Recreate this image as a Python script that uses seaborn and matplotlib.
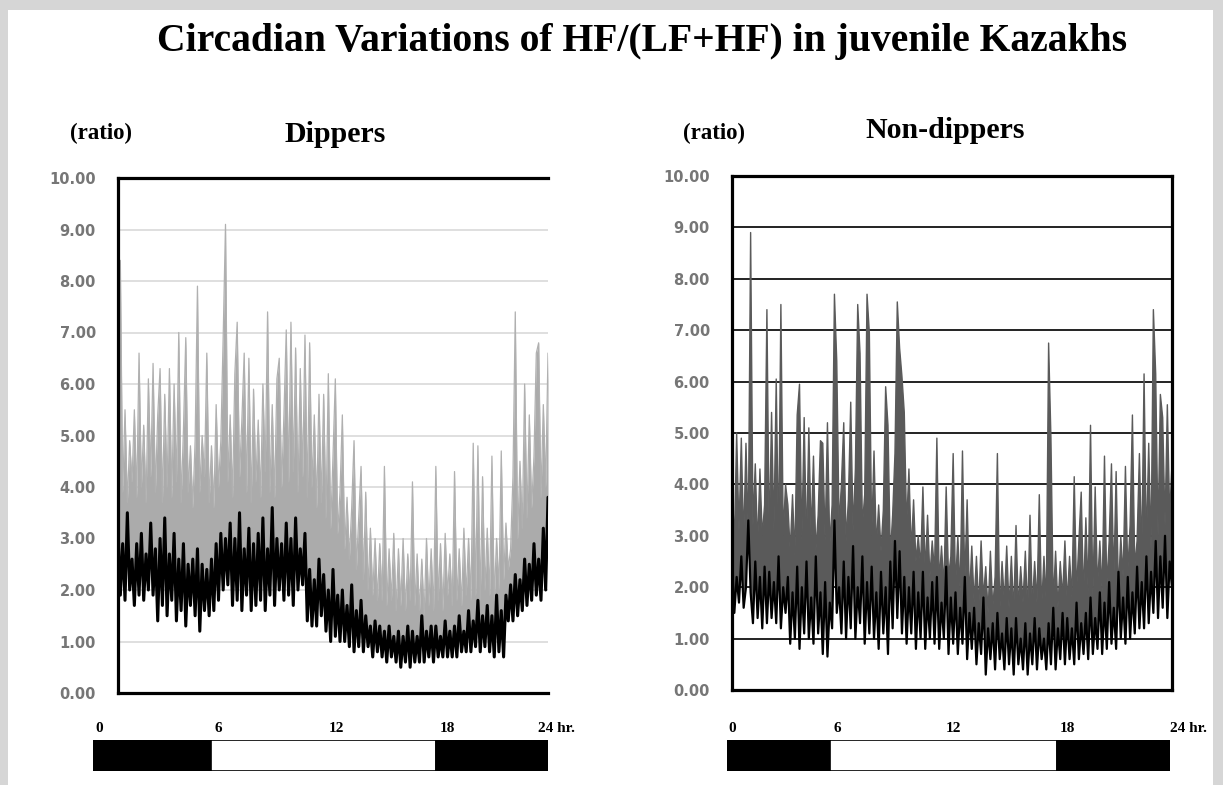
import numpy as np
import matplotlib
matplotlib.use("Agg")
import matplotlib.pyplot as plt
import seaborn as sns
from matplotlib.patches import Rectangle
from matplotlib.transforms import blended_transform_factory

# ---------------- data ----------------
title = "Circadian Variations of HF/(LF+HF) in juvenile Kazakhs"
panel_titles = ["Dippers", "Non-dippers"]
y_unit = "(ratio)"
y_ticks = [0, 1, 2, 3, 4, 5, 6, 7, 8, 9, 10]
x_tick_labels = ["0", "6", "12", "18", "24 hr."]
# where the hour labels sit under each panel (hours)
dip_label_hours = [0, 6.36, 12.67, 18.6, 23.48]
nondip_label_hours = [0, 5.65, 11.88, 18.06, 23.55]

# Dippers: samples every 7.5 min from 1:00 to 24:00
dip_start_hour, dip_end_hour = 1.0, 24.0
dip_gray = [
    3.6, 8.4, 3.9, 5.5, 3.7, 4.9, 4.1, 5.5,
    3.8, 6.6, 4.0, 5.2, 3.7, 6.1, 4.2, 6.4,
    3.9, 5.4, 6.3, 3.7, 5.8, 4.0, 6.3, 3.8,
    6.0, 4.1, 7.0, 3.7, 5.1, 6.9, 3.9, 4.8,
    3.6, 4.9, 7.9, 3.9, 5.0, 4.2, 6.6, 3.7,
    4.8, 3.6, 5.6, 4.0, 4.9, 6.9, 9.1, 4.1,
    5.4, 3.8, 6.2, 7.2, 4.2, 5.3, 6.6, 3.9,
    6.5, 3.7, 5.9, 4.1, 5.3, 3.8, 6.0, 4.3,
    7.4, 3.9, 5.6, 3.8, 6.1, 6.5, 4.0, 5.4,
    7.05, 4.1, 7.2, 4.3, 6.7, 3.9, 6.3, 4.2,
    6.95, 3.8, 6.8, 4.0, 5.4, 3.6, 5.8, 3.7,
    5.8, 3.4, 6.2, 3.2, 4.6, 6.1, 3.1, 3.9,
    5.4, 2.8, 3.8, 2.6, 3.6, 4.9, 2.4, 3.4,
    4.4, 2.2, 3.9, 2.0, 3.2, 1.9, 3.0, 1.8,
    2.9, 1.8, 4.4, 1.7, 2.8, 1.8, 3.1, 1.6,
    2.8, 1.7, 3.0, 1.6, 2.7, 1.8, 4.1, 1.7,
    2.7, 1.6, 2.6, 1.5, 3.0, 1.7, 2.8, 1.6,
    4.4, 1.8, 2.9, 1.6, 3.1, 1.9, 2.7, 1.7,
    4.3, 1.8, 2.8, 1.7, 3.2, 1.9, 3.0, 1.8,
    4.85, 1.9, 4.8, 1.8, 4.2, 2.0, 3.2, 1.9,
    4.6, 1.8, 3.0, 2.0, 4.7, 2.2, 3.3, 2.4,
    2.8, 4.2, 7.4, 3.0, 4.5, 3.2, 6.0, 3.4,
    5.4, 3.6, 4.6, 6.6, 6.8, 3.8, 5.6, 4.0,
    6.6,
]
dip_black = [
    3.2, 1.9, 2.9, 1.8, 3.5, 2.0, 2.6, 1.7,
    2.9, 1.9, 3.1, 1.8, 2.7, 2.0, 3.3, 1.9,
    2.8, 1.4, 3.0, 1.7, 3.4, 1.5, 2.7, 1.8,
    3.1, 1.4, 2.6, 1.6, 2.9, 1.3, 2.5, 1.7,
    2.6, 1.5, 2.8, 1.2, 2.5, 1.6, 2.4, 1.5,
    2.6, 1.6, 2.9, 1.8, 3.1, 2.0, 3.0, 2.1,
    3.3, 1.7, 3.0, 1.8, 3.5, 1.6, 2.8, 1.9,
    3.2, 1.6, 2.9, 1.7, 3.1, 1.8, 3.4, 1.6,
    2.8, 1.9, 3.6, 1.7, 3.0, 2.0, 2.9, 1.8,
    3.3, 1.9, 3.0, 1.7, 3.4, 2.0, 2.8, 2.1,
    3.1, 1.4, 2.4, 1.3, 2.2, 1.3, 2.6, 1.5,
    2.3, 1.2, 2.0, 1.0, 2.4, 1.1, 1.9, 1.0,
    2.0, 1.0, 1.7, 0.9, 2.1, 0.8, 1.6, 0.9,
    1.8, 0.8, 1.5, 0.9, 1.3, 0.7, 1.4, 0.8,
    1.3, 0.7, 1.2, 0.6, 1.3, 0.7, 1.1, 0.6,
    1.2, 0.5, 1.1, 0.6, 1.3, 0.5, 1.2, 0.6,
    1.1, 0.6, 1.5, 0.6, 1.2, 0.7, 1.3, 0.6,
    1.3, 0.7, 1.1, 0.7, 1.4, 0.7, 1.2, 0.7,
    1.3, 0.7, 1.5, 0.8, 1.2, 0.8, 1.6, 0.8,
    1.4, 0.9, 1.8, 0.8, 1.5, 0.9, 1.7, 0.8,
    1.5, 0.7, 1.9, 0.8, 1.6, 0.7, 1.9, 1.4,
    2.1, 1.4, 2.3, 1.5, 2.2, 1.6, 2.6, 1.7,
    2.5, 1.8, 2.9, 1.9, 2.6, 1.8, 3.2, 2.0,
    3.8,
]

# Non-dippers: samples every 7.5 min from 0:00 to 23:37
nondip_start_hour, nondip_end_hour = 0.0, 23.625
nondip_gray = [
    4.2, 2.8, 5.0, 3.1, 4.9, 2.9, 4.8, 3.0,
    8.9, 3.2, 4.4, 2.8, 4.3, 3.0, 3.6, 7.4,
    2.9, 5.4, 3.1, 6.05, 2.8, 7.5, 3.0, 4.0,
    3.6, 2.7, 3.8, 2.6, 5.35, 5.95, 2.9, 5.3,
    2.8, 5.1, 3.0, 4.55, 2.7, 3.4, 4.85, 4.8,
    2.9, 5.2, 2.8, 3.6, 7.7, 6.4, 3.2, 4.0,
    5.2, 2.9, 3.7, 5.6, 3.1, 4.3, 7.5, 6.55,
    3.2, 3.8, 7.7, 6.95, 3.0, 4.65, 2.8, 3.6,
    2.7, 3.5, 5.9, 5.15, 2.6, 3.4, 4.6, 7.55,
    6.65, 6.1, 5.4, 3.2, 4.3, 2.7, 3.7, 2.5,
    3.0, 2.4, 3.95, 2.3, 3.4, 2.2, 2.9, 2.3,
    4.9, 2.1, 2.8, 2.0, 3.95, 2.2, 2.6, 4.6,
    2.0, 3.0, 1.9, 4.65, 2.1, 3.7, 1.8, 2.8,
    1.7, 2.6, 1.6, 2.9, 1.8, 2.4, 1.5, 2.7,
    1.6, 2.2, 4.6, 1.5, 2.5, 1.7, 2.8, 1.6,
    2.6, 1.5, 3.2, 1.6, 2.4, 1.7, 2.7, 1.5,
    3.4, 1.6, 2.5, 1.7, 3.8, 1.6, 2.6, 1.7,
    6.75, 4.9, 1.7, 2.7, 1.6, 2.5, 1.8, 2.9,
    1.7, 2.6, 1.8, 4.15, 1.9, 2.9, 3.85, 1.8,
    3.35, 1.9, 5.15, 1.8, 3.95, 2.0, 2.9, 1.9,
    4.55, 2.0, 2.9, 4.4, 2.1, 4.25, 1.9, 3.0,
    2.2, 4.35, 2.3, 3.2, 5.35, 2.4, 2.9, 4.6,
    2.6, 6.15, 2.8, 4.8, 2.7, 7.4, 6.15, 3.0,
    5.75, 5.3, 3.2, 5.55, 3.4, 4.4,
]
nondip_black = [
    2.5, 1.5, 2.2, 1.7, 2.6, 1.6, 2.0, 3.3,
    1.9, 1.3, 2.5, 1.4, 2.2, 1.2, 2.4, 1.3,
    2.3, 1.4, 2.1, 1.3, 2.6, 1.2, 2.0, 1.5,
    2.2, 0.9, 1.9, 1.0, 2.4, 0.8, 2.0, 1.1,
    2.5, 1.0, 1.8, 0.9, 2.6, 1.1, 1.9, 0.7,
    2.1, 0.65, 1.7, 1.2, 3.3, 1.5, 2.0, 1.1,
    2.5, 1.0, 2.2, 1.2, 2.8, 1.0, 2.0, 1.3,
    2.6, 0.9, 2.1, 1.1, 2.4, 1.0, 1.9, 0.8,
    2.3, 1.1, 2.0, 0.7, 2.5, 1.2, 2.9, 1.4,
    2.7, 1.1, 2.2, 0.9, 2.0, 1.1, 2.3, 0.8,
    1.9, 1.0, 2.3, 0.8, 1.8, 1.0, 2.1, 0.9,
    2.2, 0.8, 1.7, 1.0, 2.4, 0.7, 1.8, 0.9,
    1.9, 0.7, 1.6, 0.9, 2.2, 0.6, 1.5, 0.8,
    1.6, 0.5, 1.3, 0.7, 1.8, 0.3, 1.2, 0.6,
    1.3, 0.4, 1.5, 0.6, 1.1, 0.4, 1.4, 0.5,
    1.2, 0.3, 1.4, 0.5, 1.0, 0.4, 1.3, 0.3,
    1.1, 0.5, 1.4, 0.4, 1.2, 0.6, 1.0, 0.4,
    1.3, 0.5, 1.6, 0.4, 1.2, 0.6, 1.5, 0.5,
    1.4, 0.6, 1.2, 0.5, 1.7, 0.6, 1.3, 0.7,
    1.5, 0.6, 1.8, 0.7, 1.4, 0.8, 1.9, 0.7,
    1.7, 0.8, 2.1, 0.9, 1.6, 0.8, 2.3, 1.0,
    1.8, 0.9, 2.2, 1.0, 1.9, 1.1, 2.4, 1.2,
    2.1, 1.2, 2.6, 1.3, 2.3, 1.5, 2.9, 1.4,
    2.6, 1.6, 3.0, 1.4, 2.5, 2.0,
]

# light/dark bar edges (hours): dark, light, dark
dip_bar_edges = [-0.32, 6.0, 18.0, 24.0]
nondip_bar_edges = [-0.27, 5.27, 17.47, 23.55]
bar_colors = ["black", "white", "black"]

# ---------------- style ----------------
sns.set_theme(style="white")
plt.rcParams["font.family"] = ["DejaVu Sans"]
plt.rcParams["text.color"] = "black"
SERIF = ["Liberation Serif", "DejaVu Serif"]

W, H = 1223, 785
fig = plt.figure(figsize=(W / 100, H / 100), dpi=100, facecolor="#d6d6d6")
fig.patches.append(Rectangle((8 / W, 0), (1213 - 8) / W, 775 / H,
                             transform=fig.transFigure, facecolor="white",
                             edgecolor="none", zorder=-5))


def rect(x0, y0, x1, y1):
    return [x0 / W, 1 - y1 / H, (x1 - x0) / W, (y1 - y0) / H]


def draw_panel(main_rect, bar_rect, hours, gray, black, gray_color, fill_color,
               gray_lw, black_lw, full_box, grid_color, grid_lw, bar_edges,
               label_hours):
    ax = fig.add_axes(main_rect)
    g = np.asarray(gray)
    b = np.asarray(black)
    # dense trace: area swept by the gray trace above the black one
    ax.fill_between(hours, b, g, where=g >= b, interpolate=True,
                    color=fill_color, lw=0, zorder=1.5)
    sns.lineplot(x=hours, y=gray, ax=ax, color=gray_color, lw=gray_lw, zorder=2)
    sns.lineplot(x=hours, y=black, ax=ax, color="black", lw=black_lw, zorder=3)
    ax.set_xlim(hours[0], hours[-1])
    ax.set_ylim(0, 10)
    ax.set_yticks(y_ticks)
    ax.set_yticklabels([f"{t:.2f}" for t in y_ticks])
    ax.set_xticks([])
    ax.set_xlabel("")
    ax.set_ylabel("")
    ax.set_axisbelow(True)
    ax.yaxis.grid(True, color=grid_color, lw=grid_lw)
    ax.tick_params(axis="y", length=0, pad=16, labelsize=10.5,
                   labelcolor="#767676")
    for lab in ax.get_yticklabels():
        lab.set_fontweight("bold")
    for side in ["left", "top", "bottom", "right"]:
        ax.spines[side].set_color("black")
        ax.spines[side].set_linewidth(2.3)
        ax.spines[side].set_zorder(5)
    if not full_box:
        ax.spines["right"].set_visible(False)
    ax.set_facecolor("white")

    bx = fig.add_axes(bar_rect)
    bx.set_xlim(bar_edges[0], bar_edges[-1])
    bx.set_ylim(0, 1)
    for i, c in enumerate(bar_colors):
        bx.barh(0.5, bar_edges[i + 1] - bar_edges[i], left=bar_edges[i],
                height=1.0, color=c, edgecolor="black", lw=1.2)
    bx.axis("off")
    tr = blended_transform_factory(bx.transData, bx.transAxes)
    for h, lab in zip(label_hours, x_tick_labels):
        ha = "left" if lab.startswith("24") else "center"
        bx.text(h, 1.38, lab, transform=tr, ha=ha, va="center", color="black",
                fontsize=11, fontweight="bold", family=SERIF, clip_on=False)
    return ax


dip_hours = np.linspace(dip_start_hour, dip_end_hour, len(dip_gray))
nondip_hours = np.linspace(nondip_start_hour, nondip_end_hour, len(nondip_gray))

draw_panel(rect(118, 178, 548, 693), rect(93, 740, 548, 771),
           dip_hours, dip_gray, dip_black, "#b0b0b0", "#ababab", 0.9, 2.2,
           False, "#d9d9d9", 1.2, dip_bar_edges, dip_label_hours)
draw_panel(rect(732, 176, 1172, 690), rect(727, 740, 1170, 771),
           nondip_hours, nondip_gray, nondip_black, "#5a5a5a", "#5a5a5a",
           1.0, 1.6, True, "#222222", 1.4, nondip_bar_edges, nondip_label_hours)

fig.text(642 / W, 1 - 41 / H, title, ha="center", va="center", color="black",
         fontsize=28.5, fontweight="bold", family=SERIF)
fig.text(335 / W, 1 - 135 / H, panel_titles[0], ha="center", va="center",
         color="black", fontsize=21.5, fontweight="bold", family=SERIF)
fig.text(945 / W, 1 - 130 / H, panel_titles[1], ha="center", va="center",
         color="black", fontsize=21.5, fontweight="bold", family=SERIF)
fig.text(70 / W, 1 - 133 / H, y_unit, ha="left", va="center", color="black",
         fontsize=16.5, fontweight="bold", family=SERIF)
fig.text(683 / W, 1 - 133 / H, y_unit, ha="left", va="center", color="black",
         fontsize=16.5, fontweight="bold", family=SERIF)

fig.savefig("out.png", dpi=100, facecolor=fig.get_facecolor())
